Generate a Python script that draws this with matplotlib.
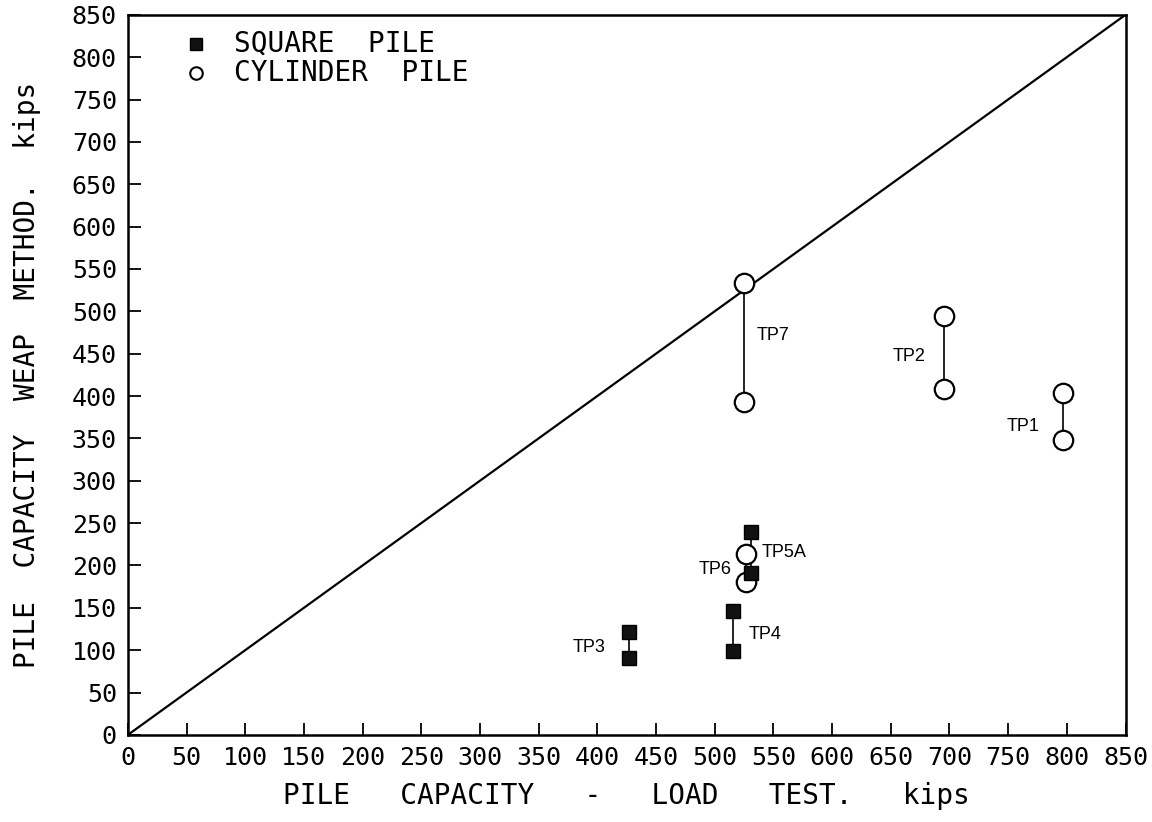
import matplotlib
matplotlib.use("Agg")
import matplotlib.pyplot as plt
import numpy as np

# test piles: name, load test capacity, WEAP upper / lower capacity
piles = ["TP1", "TP2", "TP7", "TP6", "TP5A", "TP4", "TP3"]
load_test = [797, 695, 525, 527, 531, 516, 427]
weap_high = [404, 494, 533, 214, 239, 146, 122]
weap_low = [348, 408, 393, 180, 191, 99, 91]
pile_type = ["cyl", "cyl", "cyl", "cyl", "sq", "sq", "sq"]

# label anchor (x, y, ha)
label_x = [777, 680, 536, 514, 540, 529, 407]
label_y = [364, 447, 472, 195, 215, 119, 103]
label_ha = ["right", "right", "left", "right", "left", "left", "right"]

ticks = np.arange(0, 851, 50)

plt.rcParams["font.family"] = ["DejaVu Sans Mono"]
fig = plt.figure(figsize=(11.52, 8.22), dpi=100)
ax = fig.add_axes([0.111, 0.106, 0.866, 0.876])

ax.plot([0, 850], [0, 850], color="black", lw=1.6, zorder=1)

for name, x, hi, lo, kind in zip(piles, load_test, weap_high, weap_low, pile_type):
    ax.plot([x, x], [lo, hi], color="black", lw=1.2, zorder=2)
    if kind == "cyl":
        ax.plot([x, x], [lo, hi], "o", ms=14, mfc="white", mec="black", mew=1.6, ls="none", zorder=3)
    else:
        ax.plot([x, x], [lo, hi], "s", ms=10, mfc="#111111", mec="black", ls="none", zorder=3)

for name, lx, ly, ha in zip(piles, label_x, label_y, label_ha):
    ax.text(lx, ly, name, fontsize=13, ha=ha, va="center", family="Liberation Sans")

# legend drawn as in the original
ax.plot([58], [816], "s", ms=8, mfc="#111111", mec="black")
ax.plot([58], [781], "o", ms=9, mfc="white", mec="black", mew=1.5)
ax.text(90, 816, "SQUARE  PILE", fontsize=20, va="center")
ax.text(90, 781, "CYLINDER  PILE", fontsize=20, va="center")

ax.set_xlim(0, 850)
ax.set_ylim(0, 850)
ax.set_xticks(ticks)
ax.set_yticks(ticks)
ax.tick_params(direction="in", length=9, width=1.3, labelsize=18, pad=8)
for s in ax.spines.values():
    s.set_linewidth(1.8)

ax.set_xlabel("PILE   CAPACITY   -   LOAD   TEST.   kips", fontsize=20, labelpad=9)
ax.set_ylabel("PILE  CAPACITY  WEAP  METHOD.  kips", fontsize=20, labelpad=22)

fig.savefig("out.png", dpi=100)
